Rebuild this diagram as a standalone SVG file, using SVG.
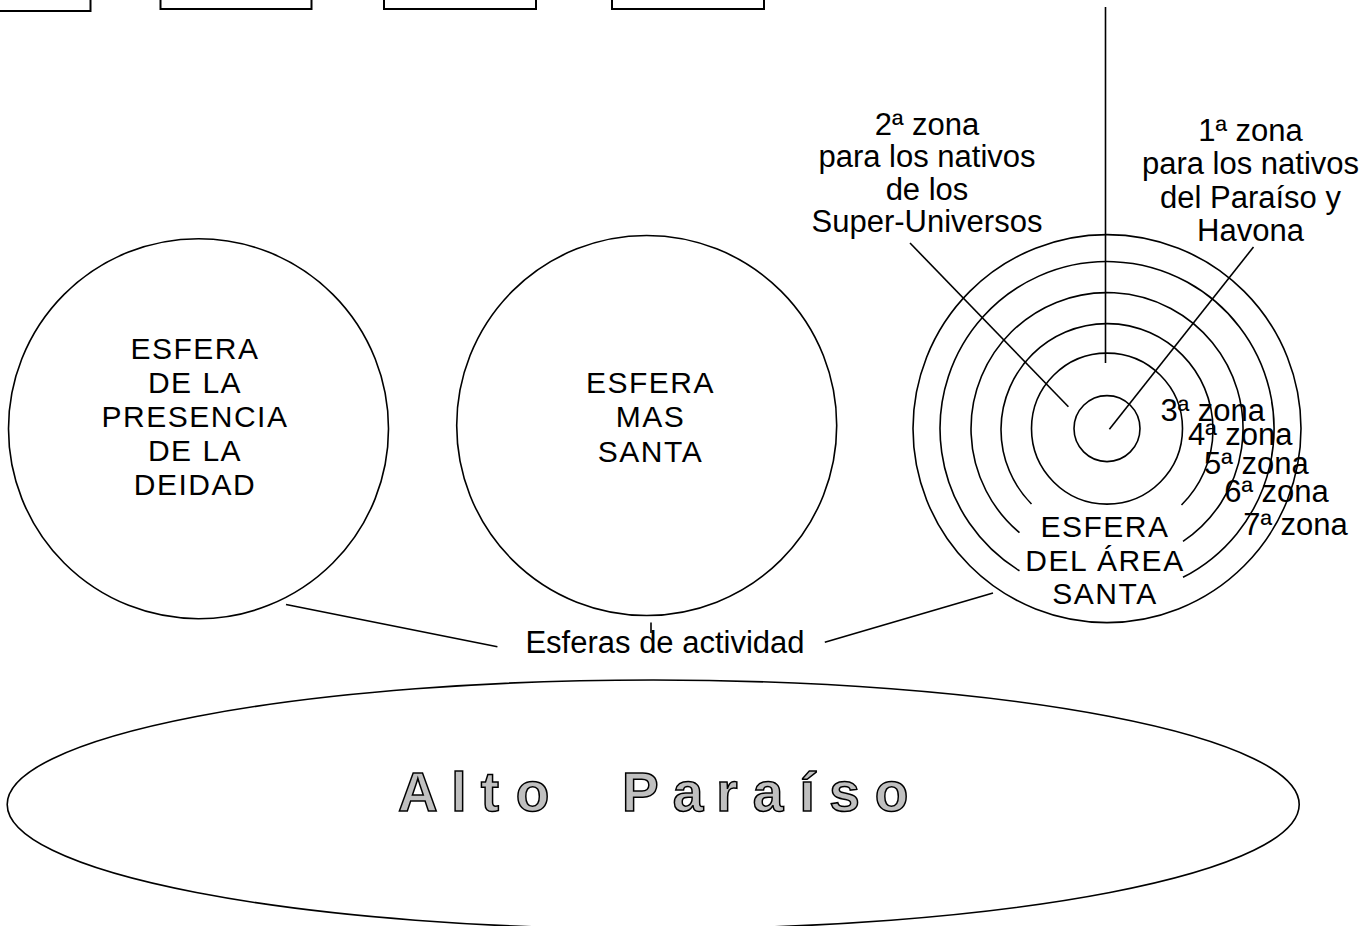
<svg xmlns="http://www.w3.org/2000/svg" width="1364" height="926" viewBox="0 0 1364 926">
<style>
.ln{fill:none;stroke:#000;stroke-width:1.6}
.bx{fill:none;stroke:#000;stroke-width:2}
.t{font-family:"Liberation Sans",Arial,sans-serif;font-size:31px;fill:#000}
.c{text-anchor:middle}
.cap{font-family:"Liberation Sans",Arial,sans-serif;font-size:30px;fill:#000;letter-spacing:1.5px;text-anchor:middle}
.big{font-family:"Liberation Sans",Arial,sans-serif;font-weight:bold;font-size:55px;fill:#c0c0c0;stroke:#000;stroke-width:1.5}
</style>
<rect width="1364" height="926" fill="#fff"/>
<g id="top-boxes">
<rect class="bx" x="-60" y="-20" width="150.5" height="31"/>
<rect class="bx" x="160.5" y="-20" width="151" height="29"/>
<rect class="bx" x="384" y="-20" width="152" height="29"/>
<rect class="bx" x="612" y="-20" width="152" height="29"/>
</g>
<g id="esfera-deidad">
<circle class="ln" cx="198.5" cy="428.7" r="190"/>
<text class="cap" x="195"><tspan x="195" y="358.5">ESFERA</tspan><tspan x="195" y="392.5">DE LA</tspan><tspan x="195" y="426.5">PRESENCIA</tspan><tspan x="195" y="460.5">DE LA</tspan><tspan x="195" y="494.5">DEIDAD</tspan></text>
</g>
<g id="esfera-mas-santa">
<circle class="ln" cx="646.7" cy="425.5" r="190"/>
<text class="cap"><tspan x="650.5" y="393.3">ESFERA</tspan><tspan x="650.5" y="427.3">MAS</tspan><tspan x="650.5" y="461.5">SANTA</tspan></text>
</g>
<g id="esfera-area-santa">
<circle class="ln" cx="1107" cy="428.6" r="194"/>
<path class="ln" d="M1183 577.3 A167 167 0 1 0 1019.5 570.8"/>
<path class="ln" d="M1183 541.4 A136 136 0 1 0 1019.5 532.7"/>
<path class="ln" d="M1181.5 505 A106 106 0 1 0 1031.5 504"/>
<circle class="ln" cx="1107" cy="428.6" r="75.5"/>
<circle class="ln" cx="1107" cy="428.6" r="33"/>
<text class="cap"><tspan x="1105" y="537">ESFERA</tspan><tspan x="1105" y="570.6">DEL ÁREA</tspan><tspan x="1105" y="604.2">SANTA</tspan></text>
</g>
<g id="zonas">
<text class="t" x="1160.4" y="420.6">3ª zona</text>
<text class="t" x="1188" y="444.8">4ª zona</text>
<text class="t" x="1204.1" y="474.3">5ª zona</text>
<text class="t" x="1224.2" y="501.8">6ª zona</text>
<text class="t" x="1243.3" y="535.4">7ª zona</text>
</g>
<g id="label-zona2">
<text class="t c"><tspan x="927" y="135">2ª zona</tspan><tspan x="927" y="167.2">para los nativos</tspan><tspan x="927" y="199.5">de los</tspan><tspan x="927" y="231.7">Super-Universos</tspan></text>
</g>
<g id="label-zona1">
<text class="t c"><tspan x="1250.5" y="141">1ª zona</tspan><tspan x="1250.5" y="174">para los nativos</tspan><tspan x="1250.5" y="207.5">del Paraíso y</tspan><tspan x="1250.5" y="241">Havona</tspan></text>
</g>
<g id="label-esferas">
<text class="t c" x="665" y="653.3">Esferas de actividad</text>
</g>
<g id="alto-paraiso">
<ellipse class="ln" cx="653.2" cy="804.5" rx="646" ry="124.5"/>
<text class="big" x="398 451.3 480.8 515.8 560 621.9 672.8 716.3 752.8 799.5 829.3 874.8" y="811">Alto Paraíso</text>
</g>
<g id="connectors">
<line class="ln" x1="1105.5" y1="7" x2="1105.5" y2="363"/>
<line class="ln" x1="910" y1="243" x2="1068.4" y2="406.8"/>
<line class="ln" x1="1253.5" y1="247" x2="1109.4" y2="429.3"/>
<line class="ln" x1="286" y1="604.5" x2="497.4" y2="646.7"/>
<line class="ln" x1="824.8" y1="642.3" x2="993" y2="593"/>
<line class="ln" x1="651" y1="622.5" x2="651" y2="633"/>
</g>
</svg>
